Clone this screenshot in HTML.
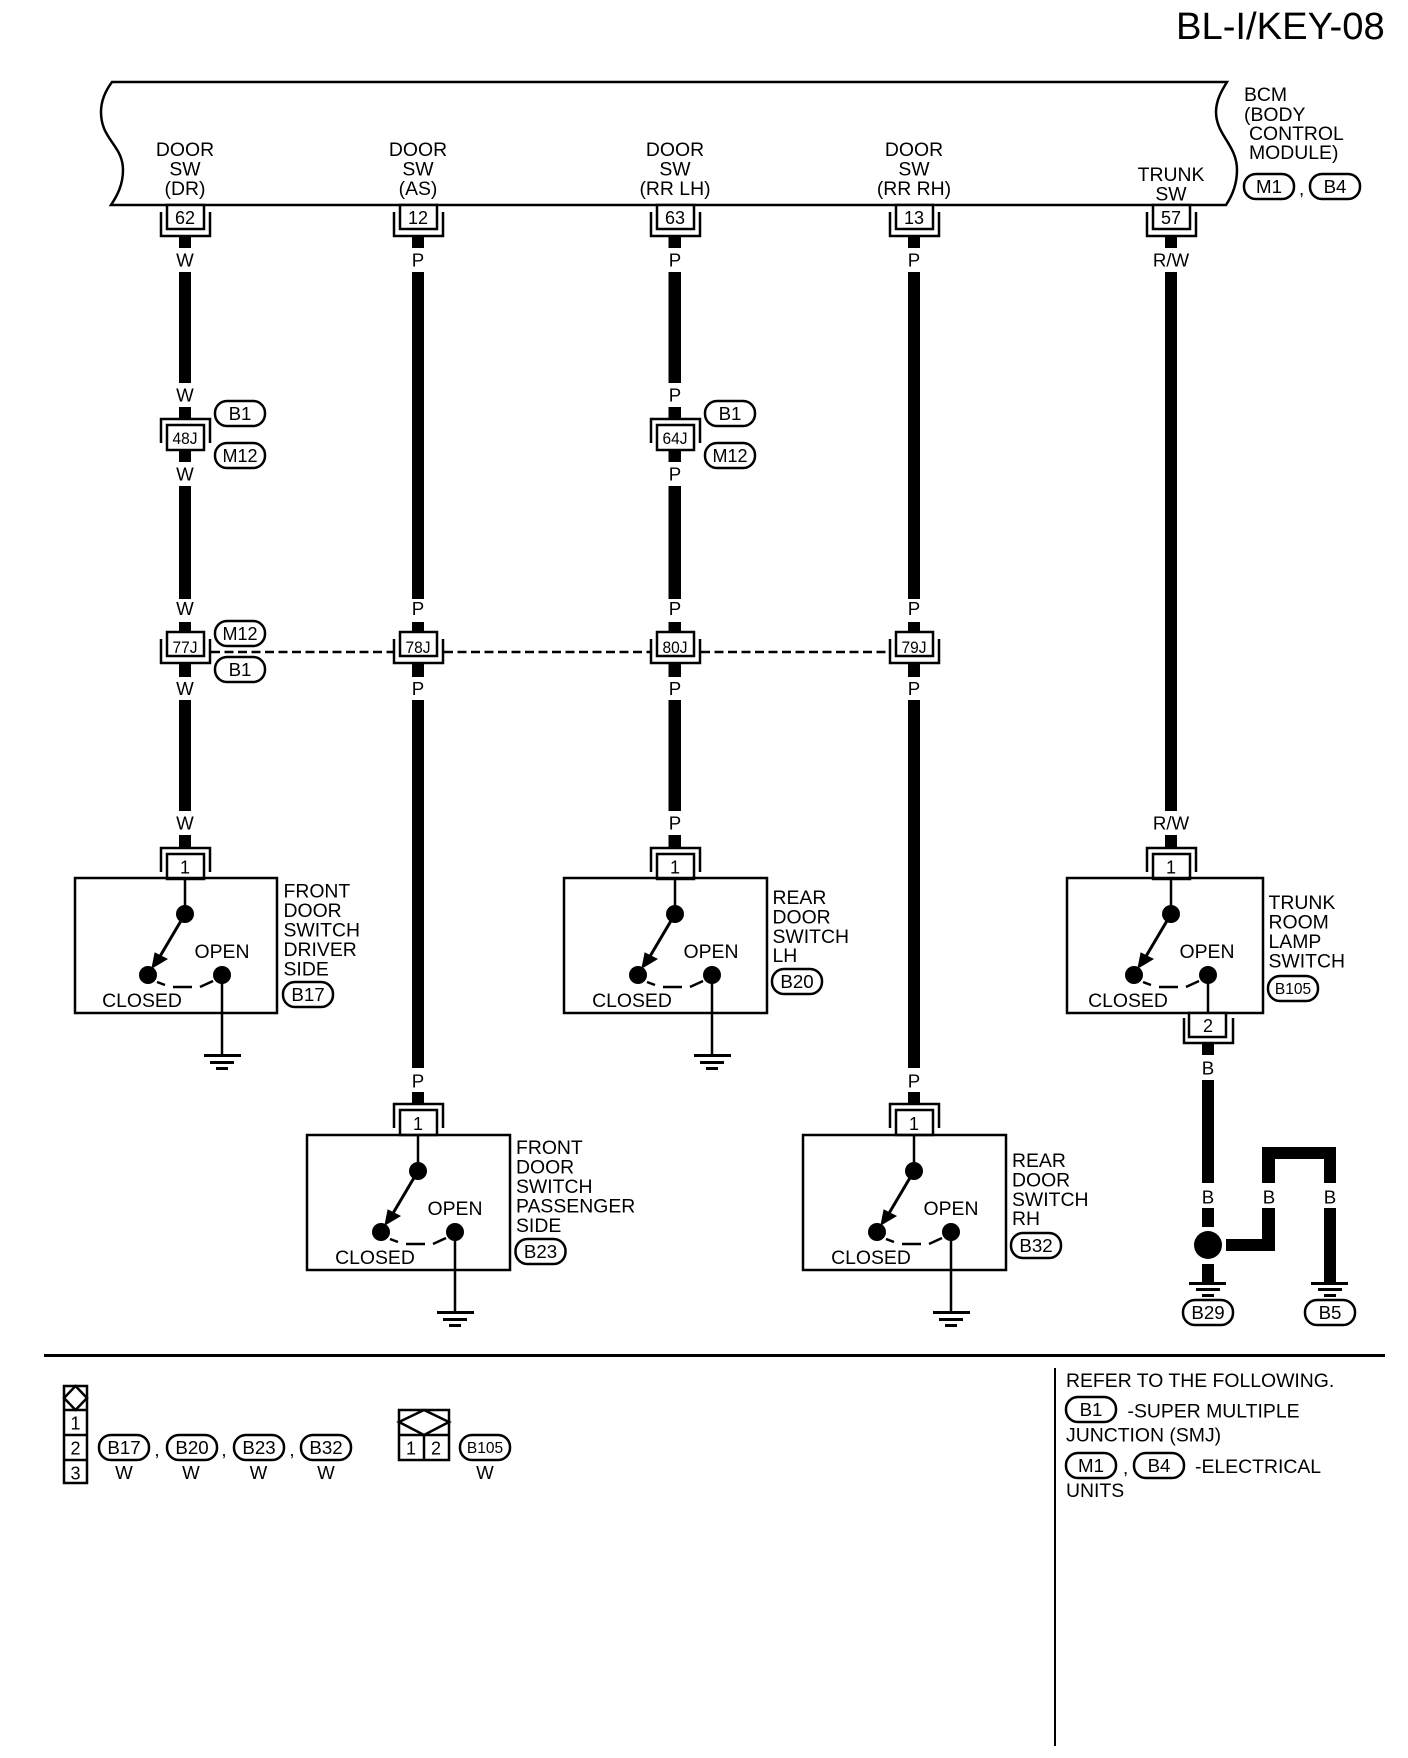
<!DOCTYPE html>
<html><head><meta charset="utf-8"><title>BL-I/KEY-08</title>
<style>
html,body{margin:0;padding:0;background:#fff}
svg{display:block}
text{font-family:"Liberation Sans",sans-serif;font-size:18.7px;fill:#000}
.l text{font-size:19.4px}
.c{text-anchor:middle}
.p{font-size:18px}
.j{font-size:17px}
.s{font-size:15.5px}
</style></head><body>
<svg xmlns="http://www.w3.org/2000/svg" width="1408" height="1758" viewBox="0 0 1408 1758">
<defs>
<g id="cU" fill="none" stroke="#000" stroke-width="2.5"><path d="M-24,7V31H25V7"/><rect x="-18" y="0" width="37" height="24" fill="#fff"/></g>
<g id="cN" fill="none" stroke="#000" stroke-width="2.5"><path d="M-24,18V-6H25V18"/><rect x="-18" y="0" width="37" height="25" fill="#fff"/></g>
<rect id="tag" width="50" height="25" rx="12" fill="#fff" stroke="#000" stroke-width="2.5"/>
<g id="sw">
<line x1="0" y1="0" x2="0" y2="35" stroke="#000" stroke-width="2.5"/>
<circle cx="0" cy="36" r="9"/><circle cx="-37" cy="97" r="9"/><circle cx="37" cy="97" r="9"/>
<line x1="0" y1="36" x2="-26" y2="80" stroke="#000" stroke-width="3"/>
<polygon points="-33,90 -30,75 -18,81" stroke="#000" stroke-width="1"/>
<path d="M-28,104L-20,107M-12,109H7M15,109L28,103" fill="none" stroke="#000" stroke-width="2.5"/>
</g>
<g id="gnd"><line x1="37" y1="97" x2="37" y2="177" stroke="#000" stroke-width="2.5"/>
<rect x="19" y="176" width="37" height="3"/><rect x="25" y="183" width="24" height="3"/><rect x="31" y="189" width="12" height="3"/></g>
<g id="g2"><rect x="-19" y="0" width="37" height="3"/><rect x="-12" y="6" width="24" height="3"/><rect x="-6" y="12" width="12" height="3"/></g>
</defs>

<text x="1176" y="39" style="font-size:38.2px">BL-I/KEY-08</text>

<!-- BCM -->
<path d="M112,82H1227C1222,90 1216,100 1216,112C1216,135 1237,145 1237,170C1237,185 1232,196 1226,205H111C117,196 123,185 123,170C123,145 101,140 101,112C101,100 106,90 112,82Z" fill="#fff" stroke="#000" stroke-width="2.5"/>
<g class="l">
<text class="c" x="185" y="156">DOOR</text><text class="c" x="185" y="175.5">SW</text><text class="c" x="185" y="195">(DR)</text>
<text class="c" x="418" y="156">DOOR</text><text class="c" x="418" y="175.5">SW</text><text class="c" x="418" y="195">(AS)</text>
<text class="c" x="675" y="156">DOOR</text><text class="c" x="675" y="175.5">SW</text><text class="c" x="675" y="195">(RR LH)</text>
<text class="c" x="914" y="156">DOOR</text><text class="c" x="914" y="175.5">SW</text><text class="c" x="914" y="195">(RR RH)</text>
<text class="c" x="1171" y="181">TRUNK</text><text class="c" x="1171" y="200.5">SW</text>
<text x="1244" y="101">BCM</text><text x="1244" y="121">(BODY</text><text x="1249" y="140">CONTROL</text><text x="1249" y="159">MODULE)</text>
</g>
<use href="#tag" x="1244" y="174"/><text class="c" x="1269" y="193">M1</text>
<text x="1299" y="195">,</text>
<use href="#tag" x="1310" y="174" width="50"/><text class="c" x="1335" y="193">B4</text>

<!-- wires -->
<g>
<rect x="179" y="236" width="12" height="12"/><rect x="179" y="272" width="12" height="111"/><rect x="179" y="407" width="12" height="13"/><rect x="179" y="450" width="12" height="12"/><rect x="179" y="486" width="12" height="113"/><rect x="179" y="622" width="12" height="11"/><rect x="179" y="663" width="12" height="14"/><rect x="179" y="700" width="12" height="111"/><rect x="179" y="835" width="12" height="13"/>
<rect x="412" y="236" width="12" height="12"/><rect x="412" y="272" width="12" height="327"/><rect x="412" y="622" width="12" height="11"/><rect x="412" y="663" width="12" height="14"/><rect x="412" y="700" width="12" height="368"/><rect x="412" y="1092" width="12" height="13"/>
<rect x="668.5" y="236" width="12.5" height="12"/><rect x="668.5" y="272" width="12.5" height="111"/><rect x="668.5" y="407" width="12.5" height="13"/><rect x="668.5" y="450" width="12.5" height="12"/><rect x="668.5" y="486" width="12.5" height="113"/><rect x="668.5" y="622" width="12.5" height="11"/><rect x="668.5" y="663" width="12.5" height="14"/><rect x="668.5" y="700" width="12.5" height="111"/><rect x="668.5" y="835" width="12.5" height="13"/>
<rect x="908" y="236" width="12" height="12"/><rect x="908" y="272" width="12" height="327"/><rect x="908" y="622" width="12" height="11"/><rect x="908" y="663" width="12" height="14"/><rect x="908" y="700" width="12" height="368"/><rect x="908" y="1092" width="12" height="13"/>
<rect x="1165" y="236" width="12" height="12"/><rect x="1165" y="272" width="12" height="539"/><rect x="1165" y="835" width="12" height="13"/>
<rect x="1202" y="1044" width="12" height="11"/><rect x="1202" y="1080" width="12" height="103"/><rect x="1202" y="1208" width="12" height="19"/><rect x="1202" y="1264" width="12" height="18"/>
<circle cx="1208" cy="1245" r="14"/>
<path d="M1226,1239H1262V1208H1275V1251H1226Z"/>
<path d="M1262,1183V1147H1336V1183H1324V1159H1275V1183Z"/>
<rect x="1324" y="1208" width="12" height="74"/>
</g>

<!-- dashed -->
<g stroke="#000" stroke-width="2.5" stroke-dasharray="9 4.5" fill="none">
<line x1="211" y1="652" x2="393" y2="652"/><line x1="444" y1="652" x2="650" y2="652"/><line x1="701" y1="652" x2="889" y2="652"/>
</g>

<!-- wire labels -->
<g>
<text class="c" x="185" y="266.5">W</text><text class="c" x="185" y="401.5">W</text><text class="c" x="185" y="480.5">W</text><text class="c" x="185" y="615">W</text><text class="c" x="185" y="695">W</text><text class="c" x="185" y="829.5">W</text>
<text class="c" x="418" y="266.5">P</text><text class="c" x="418" y="615">P</text><text class="c" x="418" y="695">P</text><text class="c" x="418" y="1087.5">P</text>
<text class="c" x="675" y="266.5">P</text><text class="c" x="675" y="401.5">P</text><text class="c" x="675" y="480.5">P</text><text class="c" x="675" y="615">P</text><text class="c" x="675" y="695">P</text><text class="c" x="675" y="829.5">P</text>
<text class="c" x="914" y="266.5">P</text><text class="c" x="914" y="615">P</text><text class="c" x="914" y="695">P</text><text class="c" x="914" y="1087.5">P</text>
<text class="c" x="1171" y="266.5">R/W</text><text class="c" x="1171" y="829.5">R/W</text>
<text class="c" x="1208" y="1074.5">B</text><text class="c" x="1208" y="1203.5">B</text><text class="c" x="1269" y="1203.5">B</text><text class="c" x="1330" y="1203.5">B</text>
</g>

<!-- top connectors -->
<use href="#cU" x="185" y="205"/><text class="c p" x="185" y="224">62</text>
<use href="#cU" x="418" y="205"/><text class="c p" x="418" y="224">12</text>
<use href="#cU" x="675" y="205"/><text class="c p" x="675" y="224">63</text>
<use href="#cU" x="914" y="205"/><text class="c p" x="914" y="224">13</text>
<use href="#cU" x="1171" y="205"/><text class="c p" x="1171" y="224">57</text>

<use href="#cN" x="185" y="425"/><text class="c j" x="185" y="444" textLength="25" lengthAdjust="spacingAndGlyphs">48J</text>
<use href="#cN" x="675" y="425"/><text class="c j" x="675" y="444" textLength="25" lengthAdjust="spacingAndGlyphs">64J</text>

<use href="#cU" x="185" y="632"/><text class="c j" x="185" y="653" textLength="25" lengthAdjust="spacingAndGlyphs">77J</text>
<use href="#cU" x="418" y="632"/><text class="c j" x="418" y="653" textLength="25" lengthAdjust="spacingAndGlyphs">78J</text>
<use href="#cU" x="675" y="632"/><text class="c j" x="675" y="653" textLength="25" lengthAdjust="spacingAndGlyphs">80J</text>
<use href="#cU" x="914" y="632"/><text class="c j" x="914" y="653" textLength="25" lengthAdjust="spacingAndGlyphs">79J</text>

<!-- tags along wires -->
<use href="#tag" x="215" y="401"/><text class="c" x="240" y="420">B1</text>
<use href="#tag" x="215" y="443"/><text class="c p" x="240" y="462">M12</text>
<use href="#tag" x="215" y="621"/><text class="c p" x="240" y="640">M12</text>
<use href="#tag" x="215" y="657"/><text class="c" x="240" y="676">B1</text>
<use href="#tag" x="705" y="401"/><text class="c" x="730" y="420">B1</text>
<use href="#tag" x="705" y="443"/><text class="c p" x="730" y="462">M12</text>

<!-- switch 1 -->
<use href="#cN" x="185" y="854"/><text class="c p" x="185" y="873.5">1</text>
<g class="l" transform="translate(185,878)"><rect x="-110" y="0" width="202" height="135" fill="none" stroke="#000" stroke-width="2.5"/><use href="#sw"/><use href="#gnd"/><text class="c" x="37" y="80">OPEN</text><text class="c" x="-43" y="129">CLOSED</text></g>
<g class="l"><text x="283.5" y="897.5">FRONT</text><text x="283.5" y="917">DOOR</text><text x="283.5" y="936.5">SWITCH</text><text x="283.5" y="956">DRIVER</text><text x="283.5" y="975.5">SIDE</text></g>
<use href="#tag" x="283" y="982"/><text class="c" x="308" y="1001">B17</text>

<!-- switch 3 -->
<use href="#cN" x="675" y="854"/><text class="c p" x="675" y="873.5">1</text>
<g class="l" transform="translate(675,878)"><rect x="-111" y="0" width="203" height="135" fill="none" stroke="#000" stroke-width="2.5"/><use href="#sw"/><use href="#gnd"/><text class="c" x="36" y="80">OPEN</text><text class="c" x="-43" y="129">CLOSED</text></g>
<g class="l"><text x="772.5" y="904">REAR</text><text x="772.5" y="923.5">DOOR</text><text x="772.5" y="943">SWITCH</text><text x="772.5" y="962">LH</text></g>
<use href="#tag" x="772" y="969"/><text class="c" x="797" y="988">B20</text>

<!-- switch 5 -->
<use href="#cN" x="1171" y="854"/><text class="c p" x="1171" y="873.5">1</text>
<g class="l" transform="translate(1171,878)"><rect x="-104" y="0" width="196" height="135" fill="none" stroke="#000" stroke-width="2.5"/><use href="#sw"/><line x1="37" y1="97" x2="37" y2="135" stroke="#000" stroke-width="2.5"/><text class="c" x="36" y="80">OPEN</text><text class="c" x="-43" y="129">CLOSED</text></g>
<g class="l"><text x="1268.5" y="909">TRUNK</text><text x="1268.5" y="928.5">ROOM</text><text x="1268.5" y="948">LAMP</text><text x="1268.5" y="967.5">SWITCH</text></g>
<use href="#tag" x="1268" y="976"/><text class="c s" x="1293" y="994">B105</text>
<g fill="none" stroke="#000" stroke-width="2.5"><path d="M1184,1018V1043H1233V1018"/><rect x="1189" y="1013" width="37" height="24" fill="#fff"/></g>
<text class="c p" x="1208" y="1032">2</text>

<!-- switch 2 -->
<use href="#cN" x="418" y="1110"/><text class="c p" x="418" y="1130">1</text>
<g class="l" transform="translate(418,1135)"><rect x="-111" y="0" width="203" height="135" fill="none" stroke="#000" stroke-width="2.5"/><use href="#sw"/><use href="#gnd"/><text class="c" x="37" y="80">OPEN</text><text class="c" x="-43" y="129">CLOSED</text></g>
<g class="l"><text x="516" y="1154">FRONT</text><text x="516" y="1173.5">DOOR</text><text x="516" y="1193">SWITCH</text><text x="516" y="1212.5">PASSENGER</text><text x="516" y="1232">SIDE</text></g>
<use href="#tag" x="515.5" y="1239"/><text class="c" x="540.5" y="1258">B23</text>

<!-- switch 4 -->
<use href="#cN" x="914" y="1110"/><text class="c p" x="914" y="1130">1</text>
<g class="l" transform="translate(914,1135)"><rect x="-111" y="0" width="203" height="135" fill="none" stroke="#000" stroke-width="2.5"/><use href="#sw"/><use href="#gnd"/><text class="c" x="37" y="80">OPEN</text><text class="c" x="-43" y="129">CLOSED</text></g>
<g class="l"><text x="1012" y="1167">REAR</text><text x="1012" y="1186.5">DOOR</text><text x="1012" y="1206">SWITCH</text><text x="1012" y="1225">RH</text></g>
<use href="#tag" x="1011" y="1233"/><text class="c" x="1036" y="1252">B32</text>

<!-- grounds -->
<use href="#g2" x="1208" y="1282"/><use href="#g2" x="1330" y="1282"/>
<use href="#tag" x="1183" y="1300"/><text class="c" x="1208" y="1319">B29</text>
<use href="#tag" x="1305" y="1300"/><text class="c" x="1330" y="1319">B5</text>

<!-- dividers -->
<rect x="44" y="1354" width="1341" height="3"/>
<rect x="1054" y="1368" width="2" height="378"/>

<!-- legend -->
<g fill="none" stroke="#000" stroke-width="2.5">
<rect x="64" y="1386" width="23" height="97"/>
<path d="M64,1410H87M64,1435H87M64,1460H87"/>
<path d="M75.5,1386L87,1398L75.5,1410L64,1398Z"/>
<rect x="399" y="1410" width="50" height="50"/>
<path d="M399,1435H449M424,1435V1460"/>
<path d="M399,1422L424,1410L449,1422L424,1435Z"/>
</g>
<text class="c p" x="75.5" y="1429.5">1</text><text class="c p" x="75.5" y="1454.5">2</text><text class="c p" x="75.5" y="1479.5">3</text>
<text class="c p" x="411" y="1454.5">1</text><text class="c p" x="436" y="1454.5">2</text>
<use href="#tag" x="99" y="1435"/><text class="c" x="124" y="1454">B17</text>
<use href="#tag" x="167" y="1435"/><text class="c" x="192" y="1454">B20</text>
<use href="#tag" x="234" y="1435"/><text class="c" x="259" y="1454">B23</text>
<use href="#tag" x="301" y="1435"/><text class="c" x="326" y="1454">B32</text>
<use href="#tag" x="460" y="1435"/><text class="c s" x="485" y="1453">B105</text>
<text class="c" x="157" y="1456">,</text><text class="c" x="224" y="1456">,</text><text class="c" x="292" y="1456">,</text>
<text class="c" x="124" y="1479">W</text><text class="c" x="191" y="1479">W</text><text class="c" x="258.5" y="1479">W</text><text class="c" x="326" y="1479">W</text><text class="c" x="485" y="1479">W</text>

<!-- right notes -->
<g class="l">
<text x="1066" y="1387">REFER TO THE FOLLOWING.</text>
<text x="1127.5" y="1417.5">-SUPER MULTIPLE</text>
<text x="1066" y="1441.5">JUNCTION (SMJ)</text>
<text x="1195" y="1473">-ELECTRICAL</text>
<text x="1066" y="1497">UNITS</text>
</g>
<use href="#tag" x="1066" y="1397"/><text class="c" x="1091" y="1416">B1</text>
<use href="#tag" x="1066" y="1453"/><text class="c" x="1091" y="1472">M1</text>
<text x="1123" y="1474">,</text>
<use href="#tag" x="1134" y="1453"/><text class="c" x="1159" y="1472">B4</text>
</svg>
</body></html>
